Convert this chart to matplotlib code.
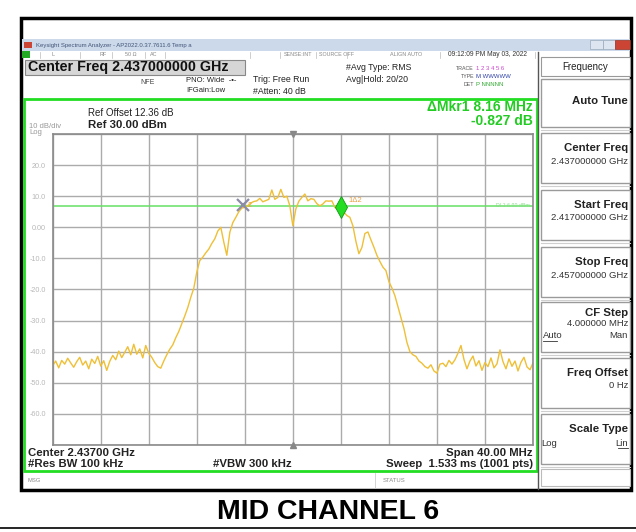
import numpy as np
import matplotlib
matplotlib.use('Agg')
import matplotlib.pyplot as plt
from matplotlib.patches import Rectangle

plt.rcParams['font.family'] = ['Liberation Sans', 'DejaVu Sans']

# sweep settings
freq_start_ghz = 2.417
freq_stop_ghz = 2.457
ref_level = 30
db_per_div = 10

# trace level, one value per 0.25 MHz
level_dbm = [
    -44.5, -43.0, -45.2, -42.8, -44.0, -42.1, -43.6, -45.0, -43.2, -41.8,
    -44.3, -43.0, -45.5, -42.4, -43.8, -41.5, -44.6, -42.9, -46.0, -43.1,
    -41.2, -42.6, -39.8, -41.9, -40.2, -38.4, -41.0, -37.6, -40.8, -39.1,
    -42.0, -38.0, -40.5, -41.8, -43.5, -44.8, -45.3, -43.0, -41.0, -39.2,
    -37.8, -35.5, -33.5, -31.0, -28.5, -25.8, -22.5, -19.6, -14.4, -10.7,
    -9.6, -8.2, -7.0, -5.2, -3.7, -1.2, 0.0, -4.8, -9.0, -1.6,
    1.5, 3.2, 5.0, 6.2, 6.4, 7.0, 7.8, 8.3, 8.5, 9.3,
    8.2, 8.6, 9.0, 12.0, 9.0, 9.6, 12.2, 9.6, 10.0, 6.9,
    0.5, 5.9, 8.4, 9.6, 10.7, 8.5, 9.2, 9.0, 7.6, 6.9,
    7.5, 8.5, 8.4, 8.5, 6.4, 5.8, 6.1, 4.8, 3.8, 3.2,
    0.5, -4.5, -8.5, -6.5, -2.0, -1.5, -4.0, -6.4, -9.0, -11.0,
    -12.8, -13.9, -17.5, -19.5, -22.0, -25.5, -29.0, -32.5, -37.0, -40.0,
    -41.0, -41.5, -43.0, -43.7, -44.8, -45.3, -44.2, -46.2, -46.9, -44.0,
    -43.7, -44.8, -42.8, -44.0, -42.6, -40.5, -38.0, -42.5, -45.5, -43.0,
    -41.4, -44.6, -42.9, -46.0, -43.5, -44.8, -42.0, -45.2, -43.9, -39.4,
    -43.2, -45.5, -42.3, -44.7, -43.0, -46.2, -43.4, -41.8, -44.9, -45.8,
    -43.6,
]
freq_ghz = np.linspace(freq_start_ghz, freq_stop_ghz, len(level_dbm))

y_tick_labels = ['', '20.0', '10.0', '0.00', '-10.0', '-20.0', '-30.0', '-40.0', '-50.0', '-60.0', '']
display_line_dbm = 6.9
mkr_ref = (2.43284, 7.2)
mkr_delta = (2.441, 6.4)

# softkey label, value line, box top, box bottom
softkeys = [
    ('Auto Tune', None, 79, 127),
    ('Center Freq', '2.437000000 GHz', 133, 183),
    ('Start Freq', '2.417000000 GHz', 190, 240),
    ('Stop Freq', '2.457000000 GHz', 247, 297),
    ('CF Step', '4.000000 MHz', 302, 352),
    ('Freq Offset', '0 Hz', 358, 408),
    ('Scale Type', None, 414, 464),
]

fig = plt.figure(figsize=(6.36, 5.32), dpi=100)
bg = fig.add_axes([0, 0, 1, 1])
bg.set_xlim(0, 636)
bg.set_ylim(532, 0)
bg.axis('off')


def txt(x, y, s, size=6.5, **kw):
    kw.setdefault('va', 'center')
    kw.setdefault('color', '#222222')
    bg.text(x, y, s, fontsize=size, **kw)


def box(x0, y0, x1, y1, **kw):
    bg.add_patch(Rectangle((x0, y0), x1 - x0, y1 - y0, **kw))


# screenshot frame and title bar
box(21, 18, 631, 490, fill=False, ec='black', lw=2.5)
box(22, 39, 630, 51, fc='#cbd9ea', ec='none')
box(24, 42, 32, 48, fc='#cc4433', ec='none')
txt(36, 45, 'Keysight Spectrum Analyzer - AP2022.0.37.7611.6 Temp a', 4.3, color='#445577')
box(590, 40, 603, 49, fc='#dde6f0', ec='#99aabb', lw=0.5)
box(603, 40, 615, 49, fc='#dde6f0', ec='#99aabb', lw=0.5)
box(615, 40, 630, 49, fc='#cc4433', ec='#993322', lw=0.5)

# status row
box(22, 51, 30, 58, fc='#22aa22', ec='none')
for sx in [40, 80, 112, 145, 165, 250, 280, 316, 347, 440, 535]:
    bg.plot([sx, sx], [51.5, 57.5], color='#bbbbbb', lw=0.5)
for sx, s in [(52, 'L'), (100, 'RF'), (125, '50 Ω'), (150, 'AC'), (284, 'SENSE:INT'),
              (319, 'SOURCE OFF'), (390, 'ALIGN AUTO')]:
    txt(sx, 54.5, s, 3.9, color='#888888')
txt(448, 54.5, '09:12:09 PM May 03, 2022', 4.8, color='#333333')

# setup info
box(25, 60, 245, 75, fc='#d6d6d6', ec='#888888', lw=0.8)
txt(28, 67.5, 'Center Freq 2.437000000 GHz', 10.3, weight='bold', color='#111111')
txt(140, 82, 'NFE', 5, color='#444444')
txt(186, 81, 'PNO: Wide  -\u2022-', 5.5)
txt(186, 91, 'IFGain:Low', 5.5)
txt(253, 80, 'Trig: Free Run', 6.3)
txt(253, 91, '#Atten: 40 dB', 6.3)
txt(346, 68, '#Avg Type: RMS', 6.3)
txt(346, 79, 'Avg|Hold: 20/20', 6.3)
txt(474, 68, 'TRACE', 3.8, color='#555555', ha='right')
txt(474, 76, 'TYPE', 3.8, color='#555555', ha='right')
txt(474, 84, 'DET', 3.8, color='#555555', ha='right')
txt(476, 68, '1 2 3 4 5 6', 4.3, color='#cc44cc')
txt(476, 76, 'M WWWWW', 4.3, color='#3344aa')
txt(476, 84, 'P NNNNN', 4.3, color='#33aa33')

# plot frame
box(24, 99, 537, 471, fill=False, ec='#22dd22', lw=2)
txt(88, 113, 'Ref Offset 12.36 dB', 7)
txt(88, 125, 'Ref 30.00 dBm', 8.2, weight='bold')
txt(29, 126, '10 dB/div', 5.5, color='#999999')
txt(29, 133, 'Log', 5.5, color='#999999')
txt(533, 107, '\u0394Mkr1 8.16 MHz', 10, weight='bold', color='#22cc22', ha='right')
txt(533, 121, '-0.827 dB', 10, weight='bold', color='#22cc22', ha='right')
txt(28, 452.5, 'Center 2.43700 GHz', 8.2, weight='bold')
txt(28, 464, '#Res BW 100 kHz', 8.2, weight='bold')
txt(213, 464, '#VBW 300 kHz', 8.2, weight='bold')
txt(533, 452.5, 'Span 40.00 MHz', 8.2, weight='bold', ha='right')
txt(533, 464, 'Sweep  1.533 ms (1001 pts)', 8.2, weight='bold', ha='right')

# message bar
txt(28, 480, 'MSG', 4.2, color='#888888')
txt(383, 480, 'STATUS', 4.2, color='#888888')
bg.plot([375, 375], [473, 488], color='#cccccc', lw=0.6)

# softkey panel
bg.plot([538, 538], [52, 489], color='#555555', lw=1)
box(541, 57, 630, 76, fc='white', ec='#999999', lw=0.8)
txt(585, 66.5, 'Frequency', 7, ha='center')
for label, value, y0, y1 in softkeys:
    box(541, y0, 630, y1, fc='white', ec='#9a9a9a', lw=1)
    bg.plot([541, 630], [y1 + 3, y1 + 3], color='#cfcfcf', lw=0.8)
    if label == 'Auto Tune':
        ly = 101
    elif label == 'CF Step':
        ly = y0 + 11
    else:
        ly = y0 + 15
    txt(628, ly, label, 8.2, weight='bold', ha='right')
    if value is not None:
        txt(628, ly + (10.5 if label == 'CF Step' else 13), value, 6.8, ha='right', color='#333333')
txt(543, 336, 'Auto', 6.8, color='#333333')
bg.plot([543, 557], [340.5, 340.5], color='#333333', lw=0.6)
txt(628, 336, 'Man', 6.8, ha='right', color='#333333')
txt(541, 443, 'Log', 6.8, color='#333333')
txt(628, 443, 'Lin', 6.8, ha='right', color='#333333')
bg.plot([618, 628], [447.5, 447.5], color='#333333', lw=0.6)
box(541, 469, 630, 486, fc='white', ec='#bbbbbb', lw=0.8)

# caption
bg.plot([0, 636], [528, 528], color='black', lw=1.2)
txt(328, 512, 'MID CHANNEL 6', 20.5, weight='bold', ha='center', color='black')

# spectrum display
ax = fig.add_axes([52.7 / 636, 1 - 445 / 532, 480.3 / 636, 311 / 532])
ax.set_facecolor('white')
ax.set_xlim(freq_start_ghz, freq_stop_ghz)
ax.set_ylim(ref_level - 10 * db_per_div, ref_level)
ax.set_xticks(np.linspace(freq_start_ghz, freq_stop_ghz, 11))
ax.set_xticklabels([])
ax.set_yticks(np.arange(ref_level, ref_level - 10 * db_per_div - 1, -db_per_div))
ax.set_yticklabels(y_tick_labels, fontsize=5.2, color='#b8b8b8')
ax.tick_params(length=0, pad=5)
ax.grid(True, color='#ababab', lw=1)
for sp in ax.spines.values():
    sp.set_color('#8a8a8a')
    sp.set_linewidth(1.2)

ax.axhline(display_line_dbm, color='#66e066', lw=1.1)
ax.text(freq_stop_ghz - 0.0003, display_line_dbm, 'DL1 6.90 dBm', fontsize=3.8,
        color='#88dd88', ha='right', va='center')
ax.plot(freq_ghz, level_dbm, color='#efbf35', lw=1.0)

ax.plot(*mkr_ref, marker='x', ms=8, mew=1.6, color='#8c8ca8')
ax.text(mkr_ref[0] + 0.0004, mkr_ref[1] - 0.3, '2', fontsize=5, color='#e8a040', va='center')
ax.plot(*mkr_delta, marker='d', ms=11, color='#22dd22', mec='#119911', mew=0.6)
ax.text(mkr_delta[0] + 0.0006, mkr_delta[1] + 2.2, '1\u03942', fontsize=5.5,
        color='#e8a040', va='center')
ax.plot(2.437, ref_level, marker='v', ms=4, color='#888888', clip_on=False)
ax.plot(2.437, ref_level - 10 * db_per_div, marker='^', ms=4, color='#888888', clip_on=False)

fig.savefig('out.png', dpi=100)
